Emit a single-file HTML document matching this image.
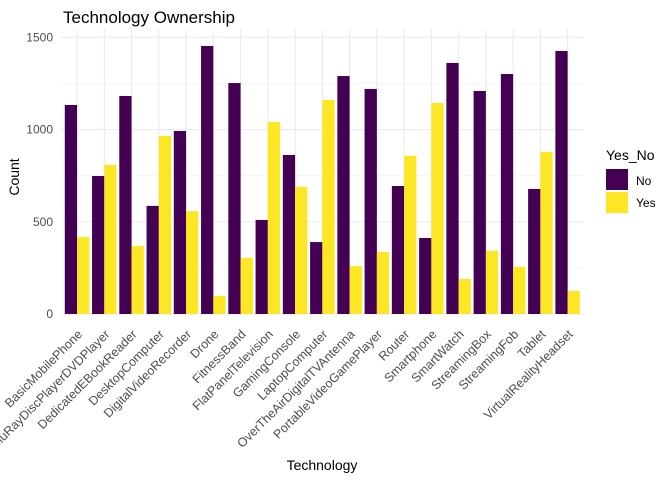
<!DOCTYPE html>
<html><head><meta charset="utf-8"><style>
body{margin:0;background:#fff;}
svg{font-family:"Liberation Sans",sans-serif;}
</style></head><body>
<svg id="chart" width="672" height="480">
<rect width="672" height="480" fill="#fff"/>
<text x="63" y="23" font-size="17" fill="#000">Technology Ownership</text>
<g id="grid"></g><g id="bars"></g><g id="yticks"></g><g id="xticks"></g>
<text x="322" y="470" font-size="14" text-anchor="middle" fill="#000">Technology</text>
<text transform="translate(19,177) rotate(-90)" font-size="14" text-anchor="middle" fill="#000">Count</text>
<g>
<text x="606" y="160" font-size="14" fill="#000">Yes_No</text>
<rect x="606" y="169" width="22" height="21" fill="#440154"/>
<text x="636" y="185" font-size="12" fill="#000">No</text>
<rect x="606" y="192" width="22" height="21" fill="#FDE725"/>
<text x="636" y="207" font-size="12" fill="#000">Yes</text>
</g>
</svg>
<script>
const categories=["BasicMobilePhone","BluRayDiscPlayerDVDPlayer","DedicatedEBookReader","DesktopComputer","DigitalVideoRecorder","Drone","FitnessBand","FlatPanelTelevision","GamingConsole","LaptopComputer","OverTheAirDigitalTVAntenna","PortableVideoGamePlayer","Router","Smartphone","SmartWatch","StreamingBox","StreamingFob","Tablet","VirtualRealityHeadset"];
const noValues=[1133,748,1182,586,992,1453,1252,510,862,390,1290,1220,694,412,1361,1209,1301,678,1426];
const yesValues=[417,808,369,965,558,98,304,1041,689,1160,260,336,857,1144,190,342,255,878,125];
const yTicks=[0,500,1000,1500];
const yMinor=[250,750,1250];
const NS="http://www.w3.org/2000/svg";
const px0=60.7,px1=584,py0=314,py1=37.3;
const step=(px1-px0)/(categories.length+0.2);
function xScale(i){return px0+step*(0.6+i);}
function yScale(v){return py0-(v/1500)*(py0-py1);}
function mk(tag,attrs,parent){const e=document.createElementNS(NS,tag);for(const k in attrs)e.setAttribute(k,attrs[k]);parent.appendChild(e);return e;}
const grid=document.getElementById('grid'),bars=document.getElementById('bars'),yt=document.getElementById('yticks'),xt=document.getElementById('xticks');
yMinor.forEach(v=>{const l=mk('line',{x1:px0,x2:px1,y1:yScale(v),y2:yScale(v),stroke:'#f0f0f0','stroke-width':0.6},grid);

});
yTicks.forEach(v=>{const l=mk('line',{x1:px0,x2:px1,y1:yScale(v),y2:yScale(v),stroke:'#ebebeb','stroke-width':1.1},grid);


const t=mk('text',{x:53,y:yScale(v)+4,'font-size':12,'text-anchor':'end',fill:'#4d4d4d'},yt);t.textContent=v;

});
const bw=step*0.45;
categories.forEach((c,i)=>{const cx=xScale(i);
const g=mk('line',{x1:cx,x2:cx,y1:py1-8,y2:py0,stroke:'#ebebeb','stroke-width':1.1},grid);


const b1=mk('rect',{x:cx-bw,y:yScale(noValues[i]),width:bw,height:py0-yScale(noValues[i]),fill:'#440154'},bars);


const b2=mk('rect',{x:cx,y:yScale(yesValues[i]),width:bw,height:py0-yScale(yesValues[i]),fill:'#FDE725'},bars);


const t=mk('text',{transform:`translate(${cx+6},${py0+21}) rotate(-45)`,'font-size':12.5,'text-anchor':'end',fill:'#4d4d4d'},xt);t.textContent=c;

});
</script>
</body></html>
